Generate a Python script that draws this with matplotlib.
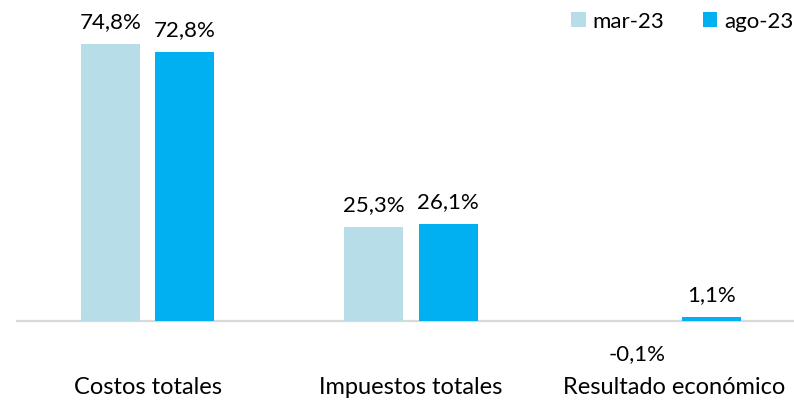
import matplotlib
matplotlib.use("Agg")
import matplotlib.pyplot as plt
import numpy as np
from matplotlib.patches import Patch

categories = ["Costos totales", "Impuestos totales", "Resultado económico"]
series_names = ["mar-23", "ago-23"]
mar23 = [74.8, 25.3, -0.1]
ago23 = [72.8, 26.1, 1.1]
colors = ["#B7DEE8", "#00B0F0"]

plt.rcParams['font.family'] = ['Lato', 'DejaVu Sans']

W, H = 794, 406
fig = plt.figure(figsize=(W/100, H/100), dpi=100)
left_px, right_px = 16, 806
top_px, bot_px = 20, 365
ax = fig.add_axes([left_px/W, 1-bot_px/H, (right_px-left_px)/W, (bot_px-top_px)/H])

zero_px = 322
scale = 3.70  # px per unit
ax.set_ylim(-(bot_px-zero_px)/scale, (zero_px-top_px)/scale)
ax.set_xlim(-0.5, len(categories)-0.5)

x = np.arange(len(categories))
bw = 0.224
off = 0.1414
for vals, c, sgn in [(mar23, colors[0], -1), (ago23, colors[1], 1)]:
    ax.bar(x + sgn*off, vals, width=bw, color=c, zorder=2)
    for xi, v in zip(x + sgn*off, vals):
        txt = f"{v:.1f}".replace(".", ",") + "%"
        dy = 12.2 if v >= 0 else -27.4
        ax.annotate(txt, (xi, v if v >= 0 else 0), xytext=(0, dy),
                    textcoords="offset points", ha="center", va="baseline",
                    fontsize=16, color="#000000", annotation_clip=False)

ax.axhline(0, color="#D9D9D9", lw=1.6, zorder=1)
for s in ax.spines.values():
    s.set_visible(False)
ax.set_yticks([])
ax.set_xticks(x)
ax.set_xticklabels(categories, fontsize=17)
ax.tick_params(axis="x", length=0, pad=9)

handles = [Patch(facecolor=colors[0]), Patch(facecolor=colors[1])]
fig.legend(handles, series_names, loc="upper right", bbox_to_anchor=(0.999, 0.97),
           ncol=2, frameon=False, fontsize=16, handlelength=0.65, handleheight=0.65,
           handletextpad=0.3, columnspacing=1.75, borderaxespad=0, borderpad=0)

fig.savefig("out.png", dpi=100)
